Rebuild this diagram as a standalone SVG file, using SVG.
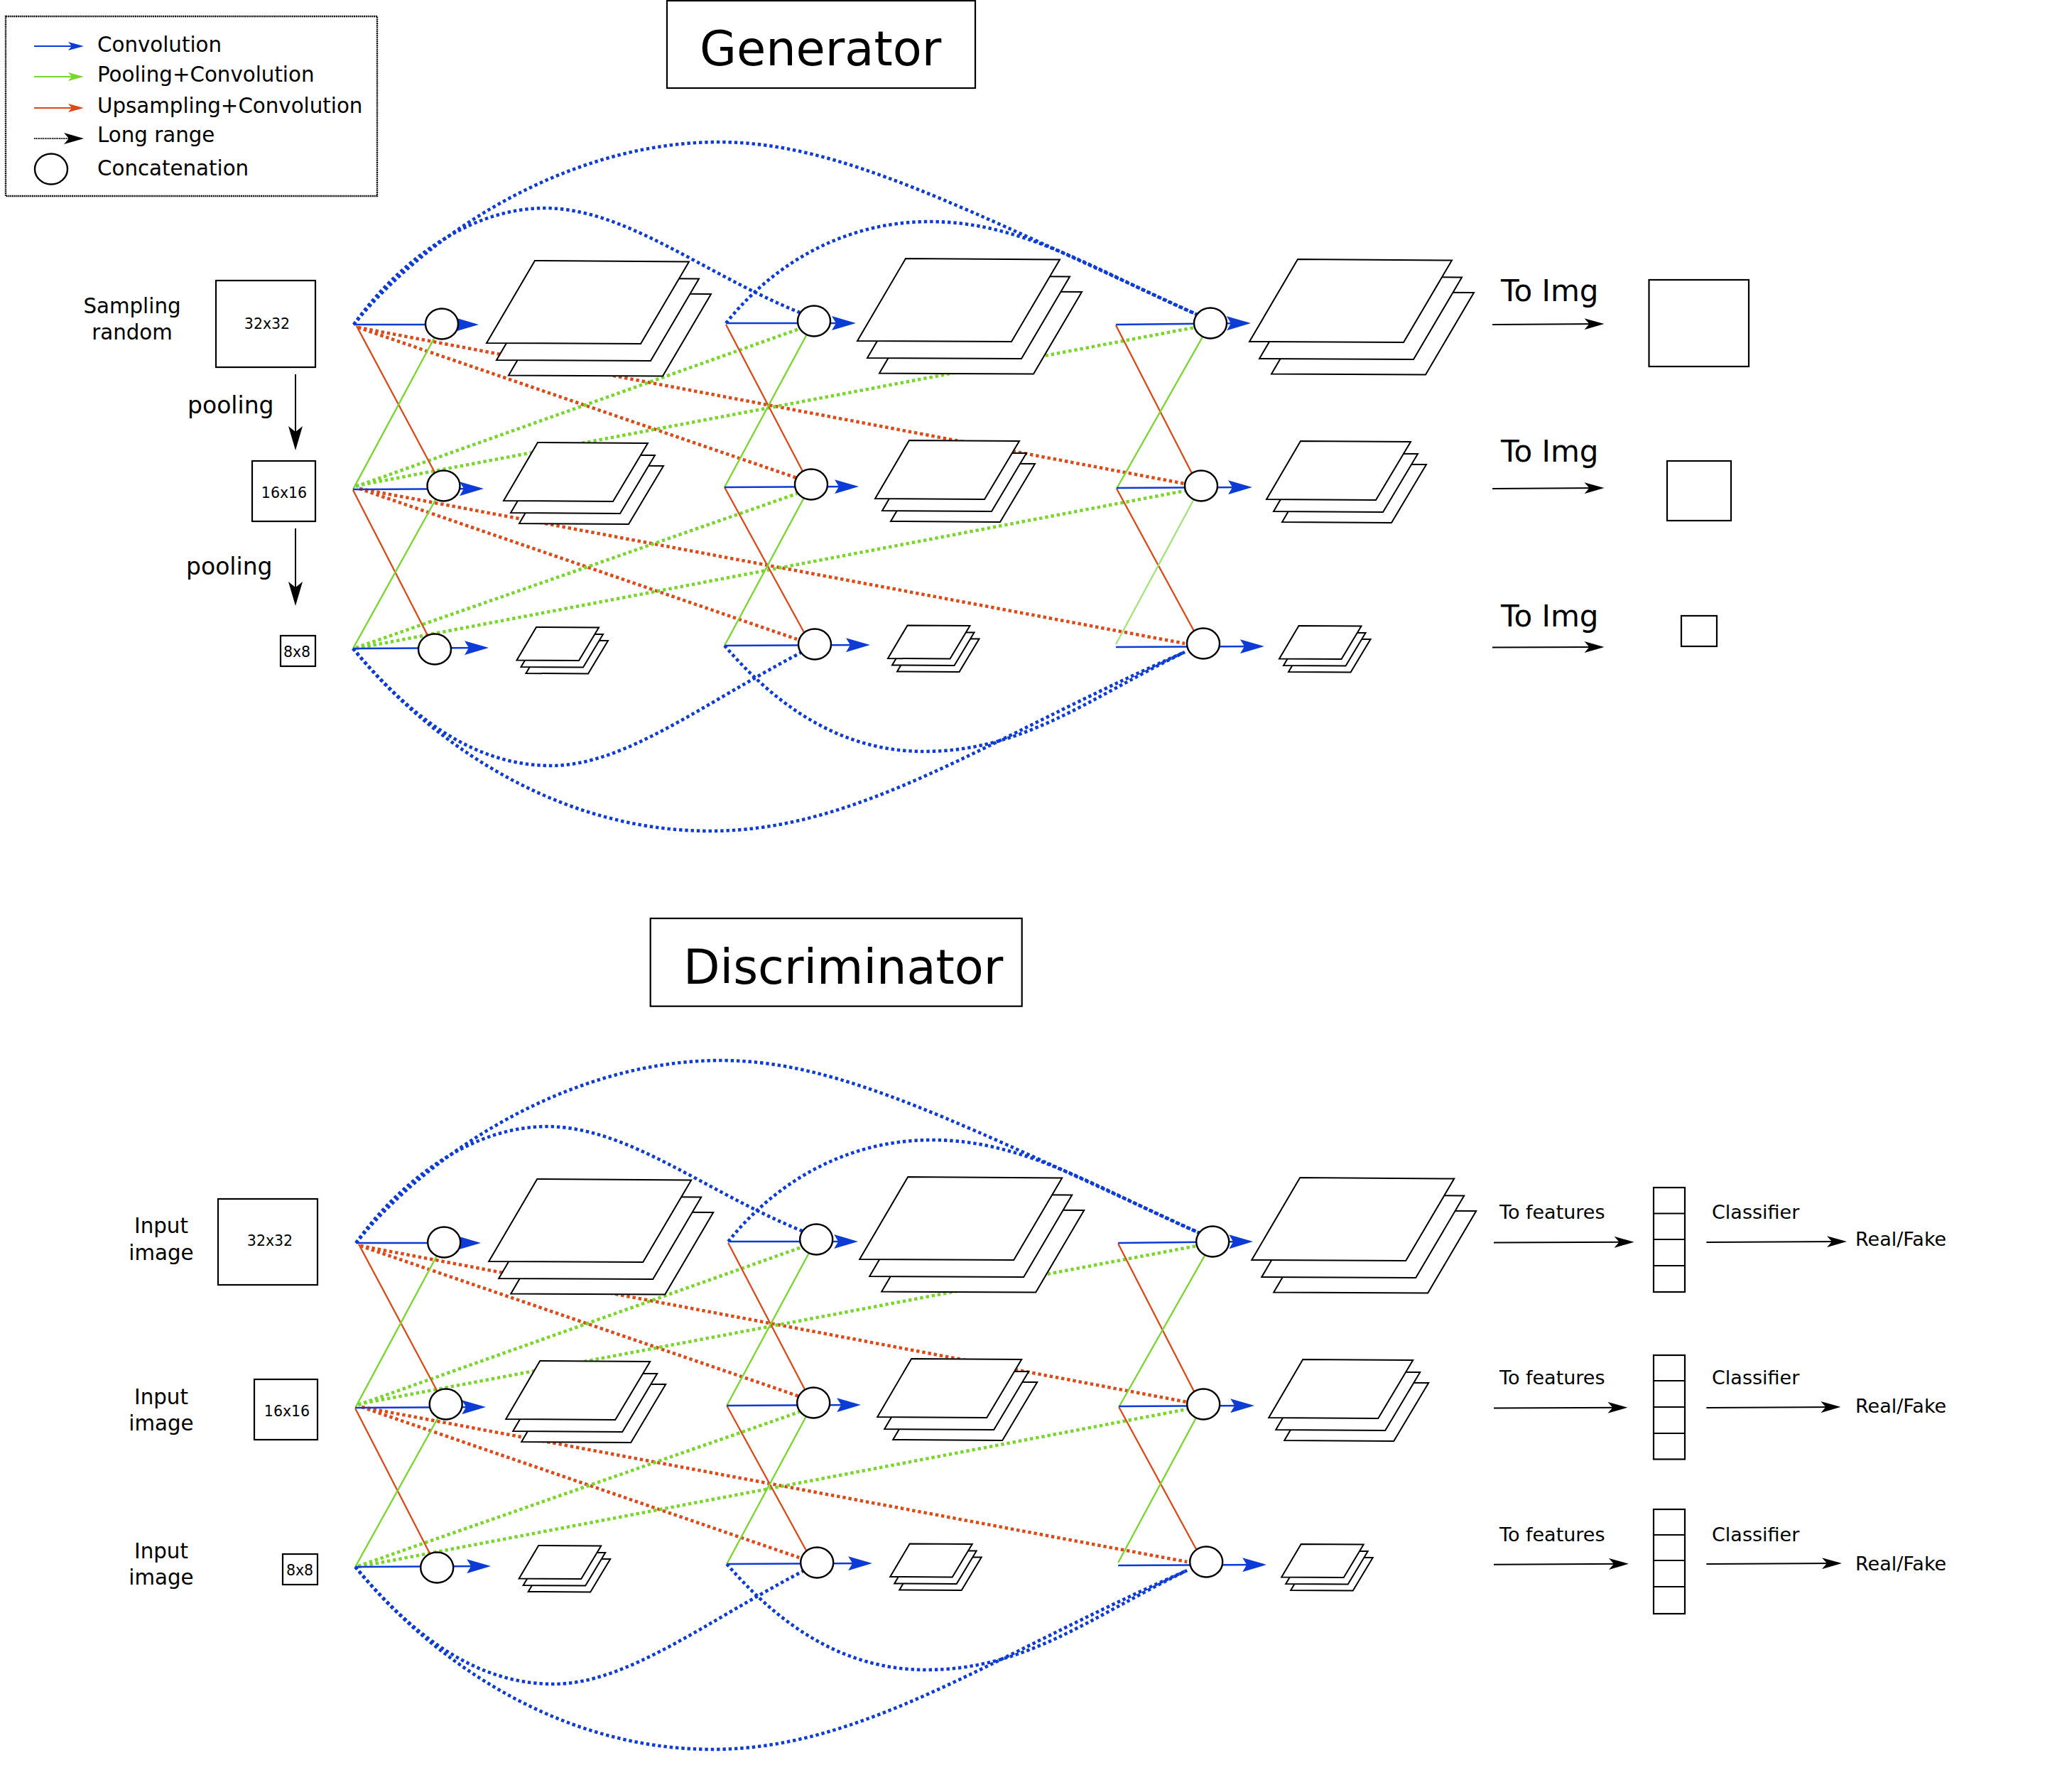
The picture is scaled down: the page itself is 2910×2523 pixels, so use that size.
<svg xmlns="http://www.w3.org/2000/svg" xmlns:xlink="http://www.w3.org/1999/xlink" width="2910" height="2523" viewBox="0 0 2910 2523">
<style>
text{font-family:"DejaVu Sans","Liberation Sans",sans-serif;fill:#000}
.box{fill:#fff;stroke:#000;stroke-width:2.2}
.c{fill:#fff;stroke:#000;stroke-width:2.4}
.p{fill:#fff;stroke:#000;stroke-width:2}
.lbl{font-size:29.3px}.mid{text-anchor:middle}
.dim{font-size:20.5px;text-anchor:middle}
.pool{font-size:33px}.ti{font-size:67px}.img{font-size:42px}.f{font-size:27px}
.db,.dr,.dg{fill:none;stroke-width:4.6;stroke-dasharray:4.4 3.9}
.db{stroke:#0c3bd6}.dr{stroke:#dd4a18}.dg{stroke:#78d62c}
.sb,.sr,.sg,.sl{fill:none;stroke-width:2.3}
.sb{stroke:#0c3bd6;stroke-width:2.6;marker-end:url(#mb)}.sr{stroke:#dd4a18}.sg{stroke:#78d62c}.sl{stroke:#a4e27a}
.k{fill:none;stroke:#000;stroke-width:2;marker-end:url(#mk)}
.kp{fill:none;stroke:#000;stroke-width:2;marker-end:url(#mp)}
</style>
<defs>
<marker id="mb" markerUnits="userSpaceOnUse" viewBox="0 0 34 20" markerWidth="34" markerHeight="20" refX="28" refY="10" orient="auto"><path d="M0,0L34,10L0,20L6,10z" fill="#0c3bd6"/></marker>
<marker id="mk" markerUnits="userSpaceOnUse" viewBox="0 0 28 16" markerWidth="28" markerHeight="16" refX="22" refY="8" orient="auto"><path d="M0,0L28,8L0,16L7,8z" fill="#000"/></marker>
<marker id="mp" markerUnits="userSpaceOnUse" viewBox="0 0 34 20" markerWidth="34" markerHeight="20" refX="28" refY="10" orient="auto"><path d="M0,0L34,10L0,20L8,10z" fill="#000"/></marker>
<marker id="l1" markerUnits="userSpaceOnUse" viewBox="0 0 22 12" markerWidth="22" markerHeight="12" refX="18" refY="6" orient="auto"><path d="M0,0L22,6L0,12L5,6z" fill="#0c3bd6"/></marker>
<marker id="l2" markerUnits="userSpaceOnUse" viewBox="0 0 22 12" markerWidth="22" markerHeight="12" refX="18" refY="6" orient="auto"><path d="M0,0L22,6L0,12L5,6z" fill="#78d62c"/></marker>
<marker id="l3" markerUnits="userSpaceOnUse" viewBox="0 0 22 12" markerWidth="22" markerHeight="12" refX="18" refY="6" orient="auto"><path d="M0,0L22,6L0,12L5,6z" fill="#dd4a18"/></marker>
<g id="L"><path class="p" transform="translate(31,45.5)" d="M68,-116L285,-114.5L217,1L0,0z"/><path class="p" transform="translate(14,24)" d="M68,-116L285,-114.5L217,1L0,0z"/><path class="p" d="M68,-116L285,-114.5L217,1L0,0z"/></g>
<g id="M"><path class="p" transform="translate(22,32)" d="M48,-82L203,-81L154,1L0,0z"/><path class="p" transform="translate(10,17)" d="M48,-82L203,-81L154,1L0,0z"/><path class="p" d="M48,-82L203,-81L154,1L0,0z"/></g>
<g id="S"><path class="p" transform="translate(13,18.5)" d="M27.5,-46.5L115.5,-46L87.5,.5L0,0z"/><path class="p" transform="translate(6,9.5)" d="M27.5,-46.5L115.5,-46L87.5,.5L0,0z"/><path class="p" d="M27.5,-46.5L115.5,-46L87.5,.5L0,0z"/></g>
</defs>
<rect width="2910" height="2523" fill="#fff"/>

<g id="legend">
<rect x="8" y="23" width="523" height="253" fill="#fff" stroke="#111" stroke-width="2.4" stroke-dasharray="2 .8"/>
<path d="M48,65H114" stroke="#0c3bd6" stroke-width="1.8" fill="none" marker-end="url(#l1)"/>
<path d="M48,108H114" stroke="#78d62c" stroke-width="1.8" fill="none" marker-end="url(#l2)"/>
<path d="M48,152H114" stroke="#dd4a18" stroke-width="1.8" fill="none" marker-end="url(#l3)"/>
<path d="M48,195H112" stroke="#000" stroke-width="1.8" stroke-dasharray="1.5 1" fill="none" marker-end="url(#mk)"/>
<ellipse class="c" cx="72" cy="238" rx="23" ry="21.5"/>
<text class="lbl" x="137" y="73">Convolution</text>
<text class="lbl" x="137" y="115">Pooling+Convolution</text>
<text class="lbl" x="137" y="159">Upsampling+Convolution</text>
<text class="lbl" x="137" y="200">Long range</text>
<text class="lbl" x="137" y="247">Concatenation</text>
</g>

<g id="gen-title"><rect class="box" x="939" y="1" width="434" height="123"/><text class="ti" x="985" y="92">Generator</text></g>

<g id="gen-inputs">
<g id="g-in32"><rect class="box" x="304" y="395" width="140" height="122"/><text class="dim" x="376" y="463">32x32</text><text class="lbl mid" x="186" y="441">Sampling</text><text class="lbl mid" x="186" y="478">random</text></g>
<g id="g-in16"><rect class="box" x="355" y="649" width="89" height="85"/><text class="dim" x="400" y="701">16x16</text></g>
<g id="g-in8"><rect class="box" x="395" y="895" width="49" height="43"/><text class="dim" x="418" y="925">8x8</text></g>
<text class="pool" x="264" y="582">pooling</text>
<text class="pool" x="262" y="809">pooling</text>
<path class="kp" d="M416,527V628"/>
<path class="kp" d="M416,744V847"/>
</g>

<g id="gen-connectors">
<path class="db" d="M498,457C600,330 800,200 1012,200C1180,200 1350,290 1690,445"/>
<path class="db" d="M498,457C560,370 660,293 767,293C880,293 990,385 1126,440"/>
<path class="db" d="M1022,455C1090,370 1190,312 1309,312C1440,312 1540,380 1690,445"/>
<path class="db" d="M497,913C570,1000 660,1078 776,1078C880,1078 990,990 1135,915"/>
<path class="db" d="M497,913C600,1040 780,1170 1000,1170C1210,1170 1390,1040 1668,918"/>
<path class="db" d="M1020,909C1090,990 1180,1058 1301,1058C1440,1058 1530,985 1668,918"/>
<path class="dr" d="M504,461L1122,673M504,461L1668,681M506,688L1122,900M506,688L1668,906"/>
<path class="dg" d="M501,685L1128,462M501,684L1682,461M501,912L1122,695M501,913L1668,691"/>
<path class="sr" d="M502,459L620,680M497,690L610,910M1022,457L1136,675M1020,686L1140,905M1571,458L1685,680M1572,688L1690,905"/>
<path class="sg" d="M497,689L622,456M497,913L624,684M1020,686L1146,452M1020,909L1142,682M1572,688L1704,455"/>
<path class="sl" d="M1571,907L1691,684"/>
<path class="sb" d="M498,457L668,457"/>
<path class="sb" d="M497,689L675,688"/>
<path class="sb" d="M497,913L682,912"/>
<path class="sb" d="M1022,455L1199,455"/>
<path class="sb" d="M1020,686L1203,685"/>
<path class="sb" d="M1020,909L1219,908"/>
<path class="sb" d="M1571,457L1755,455"/>
<path class="sb" d="M1572,687L1757,686"/>
<path class="sb" d="M1571,911L1774,910"/>
<path class="k" d="M2101,457L2252.5,456"/>
<path class="k" d="M2101,688L2252.5,687"/>
<path class="k" d="M2101,911.6L2252.5,911"/>
</g>

<g id="gen-nodes">
<g id="g-c11"><ellipse class="c" cx="622" cy="456" rx="23" ry="21.5"/></g>
<g id="g-c21"><ellipse class="c" cx="624.5" cy="684" rx="23" ry="21.5"/></g>
<g id="g-c31"><ellipse class="c" cx="612" cy="914" rx="23" ry="21.5"/></g>
<g id="g-c12"><ellipse class="c" cx="1146" cy="452" rx="23" ry="21.5"/></g>
<g id="g-c22"><ellipse class="c" cx="1142" cy="682" rx="23" ry="21.5"/></g>
<g id="g-c32"><ellipse class="c" cx="1147" cy="907" rx="23" ry="21.5"/></g>
<g id="g-c13"><ellipse class="c" cx="1704" cy="455" rx="23" ry="21.5"/></g>
<g id="g-c23"><ellipse class="c" cx="1691" cy="684" rx="23" ry="21.5"/></g>
<g id="g-c33"><ellipse class="c" cx="1694" cy="906" rx="23" ry="21.5"/></g>
<use id="g-s11" xlink:href="#L" href="#L" x="685" y="483"/>
<use id="g-s12" xlink:href="#L" href="#L" x="1207" y="480"/>
<use id="g-s13" xlink:href="#L" href="#L" x="1759" y="481"/>
<use id="g-s21" xlink:href="#M" href="#M" x="709" y="705"/>
<use id="g-s22" xlink:href="#M" href="#M" x="1232" y="702"/>
<use id="g-s23" xlink:href="#M" href="#M" x="1783" y="703"/>
<use id="g-s31" xlink:href="#S" href="#S" x="727.5" y="929.5"/>
<use id="g-s32" xlink:href="#S" href="#S" x="1250" y="927"/>
<use id="g-s33" xlink:href="#S" href="#S" x="1801" y="927.5"/>
</g>

<g id="gen-outputs">
<text class="img" x="2113" y="424">To Img</text>
<text class="img" x="2113" y="650">To Img</text>
<text class="img" x="2113" y="882">To Img</text>
<g id="g-o1"><rect class="box" x="2321.5" y="394" width="140.5" height="122"/></g>
<g id="g-o2"><rect class="box" x="2347" y="649" width="90" height="84"/></g>
<g id="g-o3"><rect class="box" x="2367" y="867" width="50" height="43"/></g>
</g>

<g id="dis-title"><rect class="box" x="915.7" y="1293" width="523" height="123.7"/><text class="ti" x="962" y="1385">Discriminator</text></g>

<g id="dis-inputs">
<g id="d-in32"><rect class="box" x="307" y="1688" width="140" height="121"/><text class="dim" x="380" y="1754">32x32</text><text class="lbl mid" x="227" y="1736">Input</text><text class="lbl mid" x="227" y="1774">image</text></g>
<g id="d-in16"><rect class="box" x="358" y="1942" width="89" height="85"/><text class="dim" x="404" y="1994">16x16</text><text class="lbl mid" x="227" y="1977">Input</text><text class="lbl mid" x="227" y="2014">image</text></g>
<g id="d-in8"><rect class="box" x="398" y="2188" width="49" height="43"/><text class="dim" x="422" y="2218">8x8</text><text class="lbl mid" x="227" y="2194">Input</text><text class="lbl mid" x="227" y="2231">image</text></g>
</g>

<g id="dis-connectors">
<g transform="translate(3.2,1293)">
<path class="db" d="M498,457C600,330 800,200 1012,200C1180,200 1350,290 1690,445"/>
<path class="db" d="M498,457C560,370 660,293 767,293C880,293 990,385 1126,440"/>
<path class="db" d="M1022,455C1090,370 1190,312 1309,312C1440,312 1540,380 1690,445"/>
<path class="db" d="M497,913C570,1000 660,1078 776,1078C880,1078 990,990 1135,915"/>
<path class="db" d="M497,913C600,1040 780,1170 1000,1170C1210,1170 1390,1040 1668,918"/>
<path class="db" d="M1020,909C1090,990 1180,1058 1301,1058C1440,1058 1530,985 1668,918"/>
<path class="dr" d="M504,461L1122,673M504,461L1668,681M506,688L1122,900M506,688L1668,906"/>
<path class="dg" d="M501,685L1128,462M501,684L1682,461M501,912L1122,695M501,913L1668,691"/>
<path class="sr" d="M502,459L620,680M497,690L610,910M1022,457L1136,675M1020,686L1140,905M1571,458L1685,680M1572,688L1690,905"/>
<path class="sg" d="M497,689L622,456M497,913L624,684M1020,686L1146,452M1020,909L1142,682M1572,688L1704,455M1571,907L1691,684"/>
<path class="sb" d="M498,457L668,457"/>
<path class="sb" d="M497,689L675,688"/>
<path class="sb" d="M497,913L682,912"/>
<path class="sb" d="M1022,455L1199,455"/>
<path class="sb" d="M1020,686L1203,685"/>
<path class="sb" d="M1020,909L1219,908"/>
<path class="sb" d="M1571,457L1755,455"/>
<path class="sb" d="M1572,687L1757,686"/>
<path class="sb" d="M1571,911L1774,910"/>
</g>
<path class="k" d="M2103,1749.5L2294.6,1748.7"/>
<path class="k" d="M2103,1982.6L2285.4,1981.7"/>
<path class="k" d="M2103,2202.7L2287,2201.8"/>
<path class="k" d="M2402.4,1749L2594,1748"/>
<path class="k" d="M2402.4,1982L2585.4,1981"/>
<path class="k" d="M2402.4,2202L2587,2201"/>
</g>

<g id="dis-nodes" transform="translate(3.2,1293)">
<g id="d-c11"><ellipse class="c" cx="622" cy="456" rx="23" ry="21.5"/></g>
<g id="d-c21"><ellipse class="c" cx="624.5" cy="684" rx="23" ry="21.5"/></g>
<g id="d-c31"><ellipse class="c" cx="612" cy="914" rx="23" ry="21.5"/></g>
<g id="d-c12"><ellipse class="c" cx="1146" cy="452" rx="23" ry="21.5"/></g>
<g id="d-c22"><ellipse class="c" cx="1142" cy="682" rx="23" ry="21.5"/></g>
<g id="d-c32"><ellipse class="c" cx="1147" cy="907" rx="23" ry="21.5"/></g>
<g id="d-c13"><ellipse class="c" cx="1704" cy="455" rx="23" ry="21.5"/></g>
<g id="d-c23"><ellipse class="c" cx="1691" cy="684" rx="23" ry="21.5"/></g>
<g id="d-c33"><ellipse class="c" cx="1695" cy="906" rx="23" ry="21.5"/></g>
<use id="d-s11" xlink:href="#L" href="#L" x="685" y="483"/>
<use id="d-s12" xlink:href="#L" href="#L" x="1207" y="480"/>
<use id="d-s13" xlink:href="#L" href="#L" x="1759" y="481"/>
<use id="d-s21" xlink:href="#M" href="#M" x="709" y="705"/>
<use id="d-s22" xlink:href="#M" href="#M" x="1232" y="702"/>
<use id="d-s23" xlink:href="#M" href="#M" x="1783" y="703"/>
<use id="d-s31" xlink:href="#S" href="#S" x="727.5" y="929.5"/>
<use id="d-s32" xlink:href="#S" href="#S" x="1250" y="927"/>
<use id="d-s33" xlink:href="#S" href="#S" x="1801" y="927.5"/>
</g>

<g id="dis-outputs">
<g id="d-f1"><rect class="box" x="2328" y="1672" width="44" height="147"/><path class="box" d="M2328,1708.5H2372M2328,1745H2372M2328,1782H2372"/></g>
<g id="d-f2"><rect class="box" x="2328" y="1908" width="44" height="146.5"/><path class="box" d="M2328,1944H2372M2328,1981H2372M2328,2018H2372"/></g>
<g id="d-f3"><rect class="box" x="2328" y="2125" width="44" height="147"/><path class="box" d="M2328,2161H2372M2328,2197H2372M2328,2234H2372"/></g>
<text class="f" x="2111" y="1716">To features</text>
<text class="f" x="2111" y="1949">To features</text>
<text class="f" x="2111" y="2170">To features</text>
<text class="f" x="2410" y="1716">Classifier</text>
<text class="f" x="2410" y="1949">Classifier</text>
<text class="f" x="2410" y="2170">Classifier</text>
<text class="f" x="2612" y="1754">Real/Fake</text>
<text class="f" x="2612" y="1989">Real/Fake</text>
<text class="f" x="2612" y="2211">Real/Fake</text>
</g>
</svg>
